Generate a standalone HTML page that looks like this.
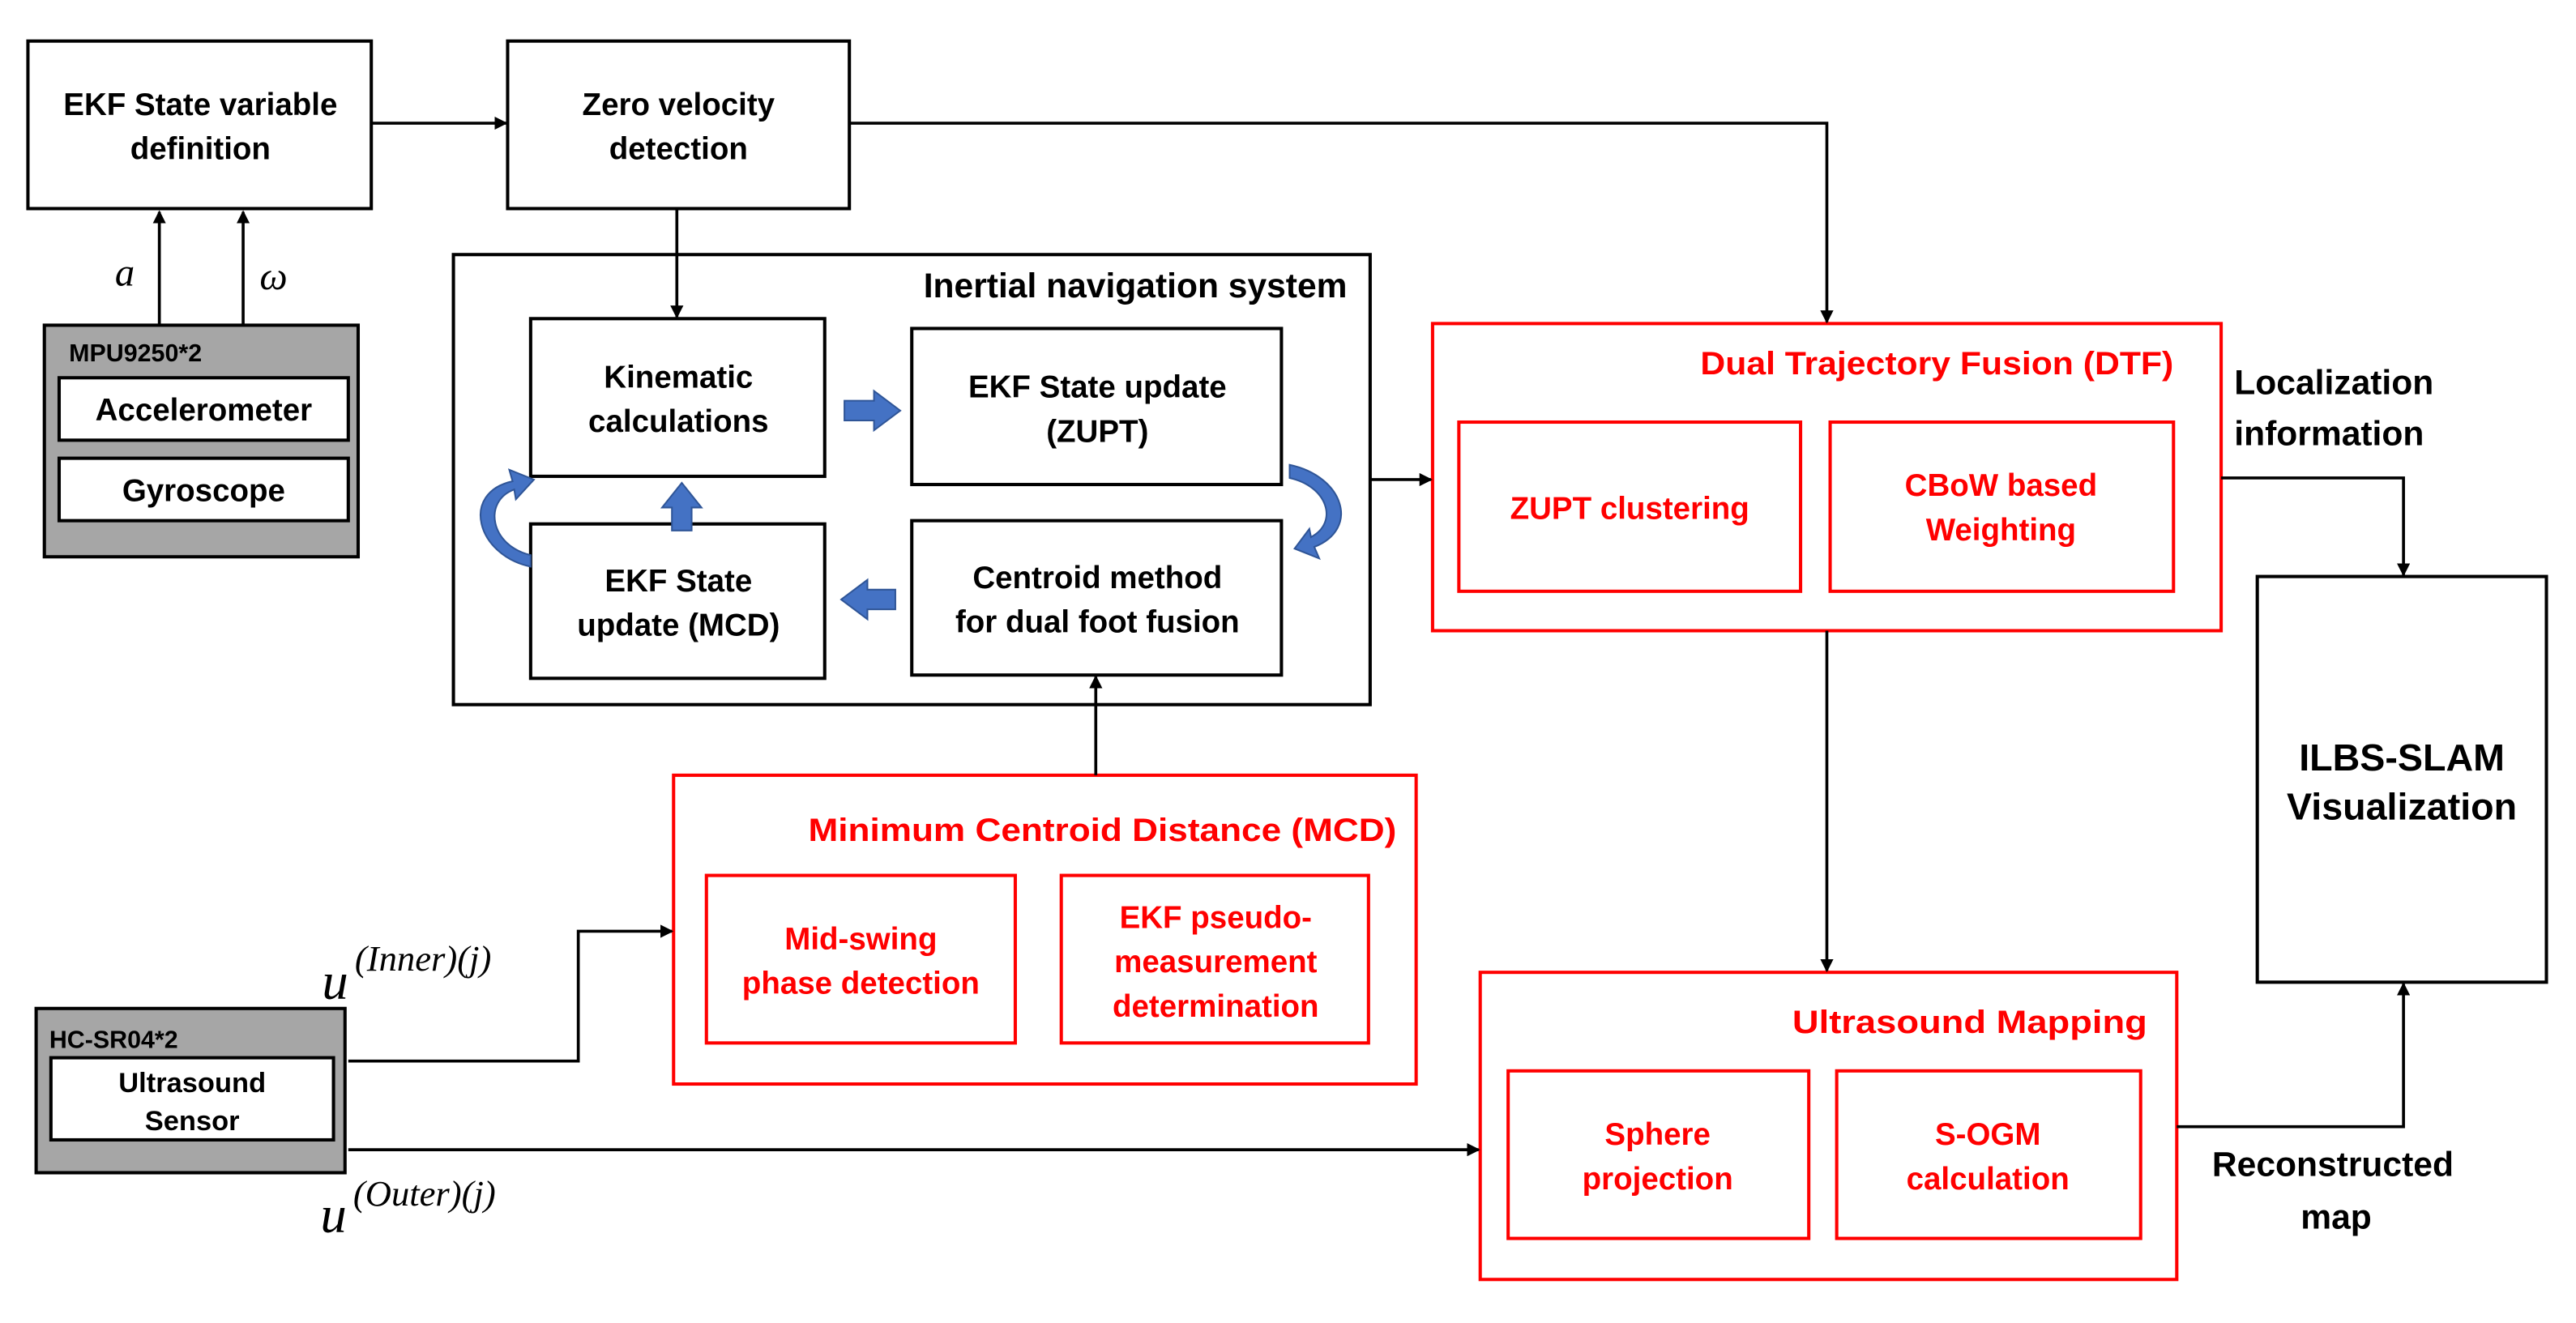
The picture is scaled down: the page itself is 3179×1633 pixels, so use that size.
<!DOCTYPE html>
<html><head><meta charset="utf-8"><style>
html,body{margin:0;padding:0;background:#fff;}
svg{display:block;}
text{font-family:"Liberation Sans",sans-serif;font-weight:bold;}
.m{font-family:"Liberation Serif",serif;font-style:italic;font-weight:normal;}
</style></head><body>
<svg width="3179" height="1633" viewBox="0 0 1568 805.5" preserveAspectRatio="none" xmlns="http://www.w3.org/2000/svg">
<defs>
<marker id="ar" markerWidth="8" markerHeight="8" refX="7" refY="4" orient="auto" markerUnits="userSpaceOnUse"><path d="M0,0 L8,4 L0,8 z" fill="#000"/></marker>
</defs>
<g fill="none" stroke="#000" stroke-width="2">
<rect x="17" y="25" width="209" height="102" fill="#fff"/>
<rect x="309" y="25" width="208" height="102" fill="#fff"/>
<rect x="27" y="198" width="191" height="141" fill="#a6a6a6"/>
<rect x="36" y="230" width="176" height="38" fill="#fff"/>
<rect x="36" y="279" width="176" height="38" fill="#fff"/>
<rect x="276" y="155" width="558" height="274"/>
<rect x="323" y="194" width="179" height="96"/>
<rect x="555" y="200" width="225" height="95"/>
<rect x="323" y="319" width="179" height="94"/>
<rect x="555" y="317" width="225" height="94"/>
<rect x="1374" y="351" width="176" height="247"/>
<rect x="22" y="614" width="188" height="100" fill="#a6a6a6"/>
<rect x="31" y="644" width="172" height="50" fill="#fff"/>
</g>
<g fill="none" stroke="#f00" stroke-width="2">
<rect x="872" y="197" width="480" height="187"/>
<rect x="888" y="257" width="208" height="103"/>
<rect x="1114" y="257" width="209" height="103"/>
<rect x="410" y="472" width="452" height="188"/>
<rect x="430" y="533" width="188" height="102"/>
<rect x="646" y="533" width="187" height="102"/>
<rect x="901" y="592" width="424" height="187"/>
<rect x="918" y="652" width="183" height="102"/>
<rect x="1118" y="652" width="185" height="102"/>
</g>
<g fill="none" stroke="#000" stroke-width="1.8" marker-end="url(#ar)">
<path d="M226,75 H308"/>
<path d="M517,75 H1112 V196"/>
<path d="M412,127 V193"/>
<path d="M97,198 V129"/>
<path d="M148,198 V129"/>
<path d="M834,292 H871"/>
<path d="M1352,291 H1463 V350"/>
<path d="M1112,384 V591"/>
<path d="M667,472 V412"/>
<path d="M212,646 H352 V567 H409"/>
<path d="M212,700 H900"/>
<path d="M1325,686 H1463 V599"/>
</g>
<g fill="#4472c4" stroke="#2f5597" stroke-width="1">
<path d="M514,244 H532 V238 L548,250 L532,262 V256 H514 z"/>
<path d="M545,359 H528 V353 L512,365 L528,377 V371 H545 z"/>
<path d="M409,323 V309 H403 L415,294 L427,309 H421 V323 z"/>
<path d="M323,345 C290,338 280,300 312,293 L310,286 L325,292 L314,304 L313,298 C294,305 298,332 323,338 z"/>
<path d="M785,283 C818,290 828,322 800,333 L803,340 L788,334 L797,322 L798,327 C815,318 808,296 785,291 z"/>
</g>
<g font-size="19" text-anchor="middle" fill="#000">
<text x="122" y="70">EKF State variable</text>
<text x="122" y="97">definition</text>
<text x="413" y="70">Zero velocity</text>
<text x="413" y="97">detection</text>
<text x="124" y="256">Accelerometer</text>
<text x="124" y="305">Gyroscope</text>
<text x="413" y="236">Kinematic</text>
<text x="413" y="263">calculations</text>
<text x="668" y="242">EKF State update</text>
<text x="668" y="269">(ZUPT)</text>
<text x="413" y="360">EKF State</text>
<text x="413" y="387">update (MCD)</text>
<text x="668" y="358">Centroid method</text>
<text x="668" y="385">for dual foot fusion</text>
<text x="117" y="665" font-size="17" font-weight="normal">Ultrasound</text>
<text x="117" y="688" font-size="17" font-weight="normal">Sensor</text>
<text x="1462" y="469" font-size="23">ILBS-SLAM</text>
<text x="1462" y="499" font-size="23">Visualization</text>
<text x="1420" y="716" font-size="21">Reconstructed</text>
<text x="1422" y="748" font-size="21">map</text>
</g>
<g font-size="15" fill="#000" font-weight="normal">
<text x="42" y="220">MPU9250*2</text>
<text x="30" y="638">HC-SR04*2</text>
</g>
<text x="820" y="181" font-size="21" text-anchor="end" fill="#000">Inertial navigation system</text>
<text x="1360" y="240" font-size="21" fill="#000">Localization</text>
<text x="1360" y="271" font-size="21" fill="#000">information</text>
<g font-size="19" text-anchor="middle" fill="#f00">
<text x="1323" y="228" text-anchor="end" font-size="19.5" textLength="288" lengthAdjust="spacingAndGlyphs">Dual Trajectory Fusion (DTF)</text>
<text x="992" y="316">ZUPT clustering</text>
<text x="1218" y="302">CBoW based</text>
<text x="1218" y="329">Weighting</text>
<text x="850" y="512" text-anchor="end" font-size="19.5" textLength="358" lengthAdjust="spacingAndGlyphs">Minimum Centroid Distance (MCD)</text>
<text x="524" y="578">Mid-swing</text>
<text x="524" y="605">phase detection</text>
<text x="740" y="565">EKF pseudo-</text>
<text x="740" y="592">measurement</text>
<text x="740" y="619">determination</text>
<text x="1307" y="629" text-anchor="end" font-size="19.5" textLength="216" lengthAdjust="spacingAndGlyphs">Ultrasound  Mapping</text>
<text x="1009" y="697">Sphere</text>
<text x="1009" y="724">projection</text>
<text x="1210" y="697">S-OGM</text>
<text x="1210" y="724">calculation</text>
</g>
<g fill="#000">
<text class="m" x="70" y="174" font-size="24">a</text>
<text class="m" x="158" y="176" font-size="24">ω</text>
<text class="m" x="196" y="608" font-size="32">u</text>
<text class="m" x="216" y="591" font-size="22">(Inner)(j)</text>
<text class="m" x="195" y="750" font-size="32">u</text>
<text class="m" x="215" y="734" font-size="22">(Outer)(j)</text>
</g>
</svg>
</body></html>
